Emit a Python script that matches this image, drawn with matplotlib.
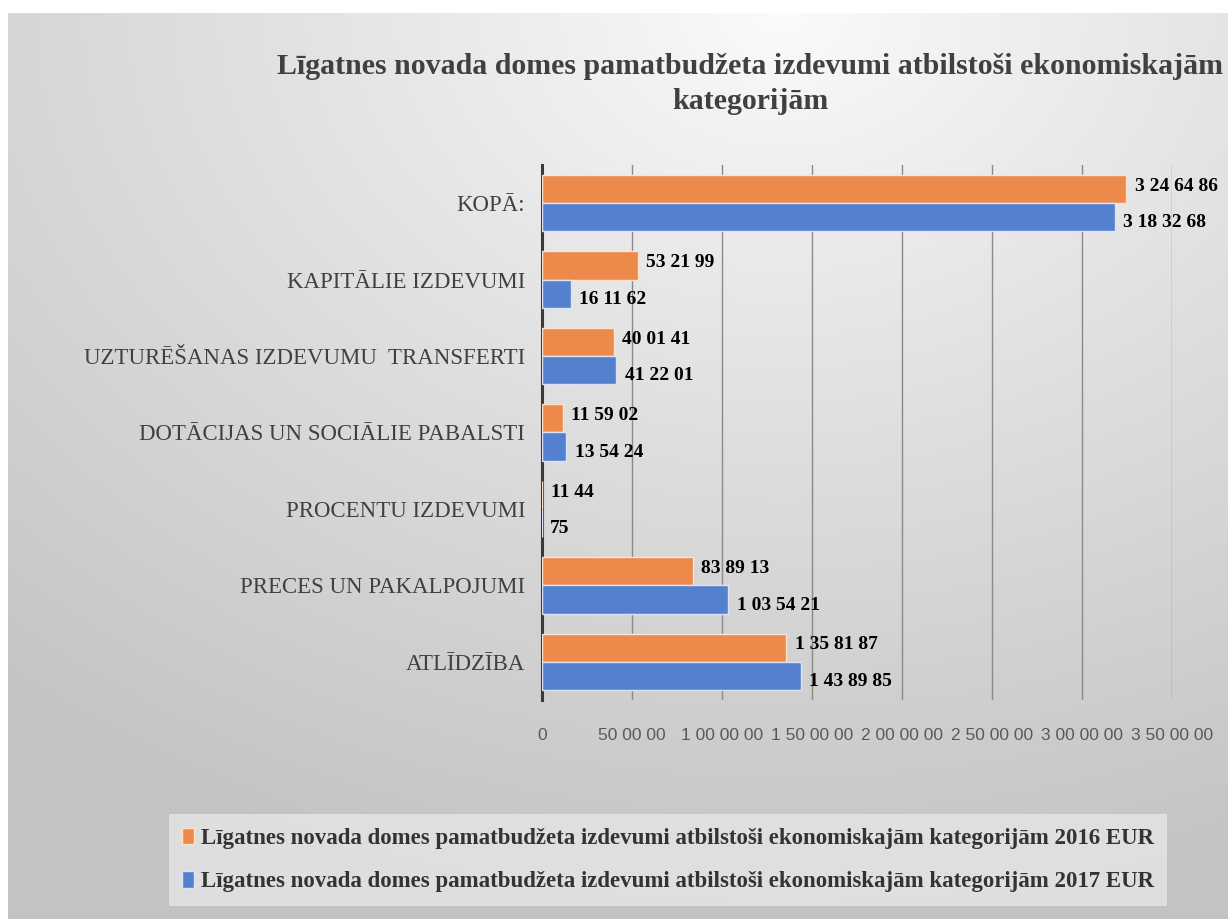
import numpy as np
import matplotlib
matplotlib.use("Agg")
import matplotlib.pyplot as plt
from matplotlib.ticker import FuncFormatter, MultipleLocator

categories = ["ATLĪDZĪBA", "PRECES UN PAKALPOJUMI", "PROCENTU IZDEVUMI",
              "DOTĀCIJAS UN SOCIĀLIE PABALSTI", "UZTURĒŠANAS IZDEVUMU  TRANSFERTI",
              "KAPITĀLIE IZDEVUMI", "KOPĀ:"]
values_2016 = [1358187, 838913, 1144, 115902, 400141, 532199, 3246486]
values_2017 = [1438985, 1035421, 75, 135424, 412201, 161162, 3183268]
series_names = ["Līgatnes novada domes pamatbudžeta izdevumi atbilstoši ekonomiskajām kategorijām 2016 EUR",
                "Līgatnes novada domes pamatbudžeta izdevumi atbilstoši ekonomiskajām kategorijām 2017 EUR"]
title = "Līgatnes novada domes pamatbudžeta izdevumi atbilstoši ekonomiskajām\nkategorijām"

def fmt_pairs(v):
    s = str(int(round(v)))
    groups = []
    while len(s) > 2:
        groups.insert(0, s[-2:])
        s = s[:-2]
    if s:
        groups.insert(0, s)
    return " ".join(groups)

W, H = 1228, 919
fig = plt.figure(figsize=(W / 100, H / 100), dpi=100)
fig.patch.set_facecolor("white")

# background gradient
bg = fig.add_axes([8 / W, 0, 1 - 8 / W, 1 - 13 / H], zorder=-10)
yy, xx = np.mgrid[0:200, 0:300]
cx, cy = 190, 0
r = np.sqrt(((xx - cx) / 300) ** 2 + ((yy - cy) / 200) ** 2)
val = 0.985 - 0.22 * np.clip(r / 1.0, 0, 1) ** 0.9
img = np.dstack([val, val, val])
bg.imshow(img, aspect="auto", extent=[0, 1, 0, 1], origin="upper", interpolation="bicubic")
bg.set_axis_off()

serif = ["Liberation Serif", "DejaVu Serif"]
ax = fig.add_axes([542 / W, 1 - 700 / H, (1172 - 542) / W, (700 - 165) / H])
ax.patch.set_alpha(0)

y = np.arange(len(categories))
h = 0.37
off = 0.185
orange = "#ED8A4B"
blue = "#5580CE"
b1 = ax.barh(y + off, values_2016, height=h, color=orange, edgecolor="#fbe3d2", linewidth=1.0, zorder=3,
             label=series_names[0])
b2 = ax.barh(y - off, values_2017, height=h, color=blue, edgecolor="#dbe4f5", linewidth=1.0, zorder=3,
             label=series_names[1])

for yi, v in zip(y, values_2016):
    ax.annotate(fmt_pairs(v), (v, yi + off), xytext=(6, 2), textcoords="offset points",
                ha="left", va="center", fontsize=14, fontweight="bold", family=serif, color="black")
for yi, v in zip(y, values_2017):
    ax.annotate(fmt_pairs(v), (v, yi - off), xytext=(6, -4), textcoords="offset points",
                ha="left", va="center", fontsize=14, fontweight="bold", family=serif, color="black")

ax.set_xlim(0, 3500000)
ax.set_ylim(-0.5, 6.5)
ax.xaxis.set_major_locator(MultipleLocator(500000))
ax.xaxis.set_major_formatter(FuncFormatter(lambda v, p: fmt_pairs(v)))
ax.grid(axis="x", color="#8a8a8a", linewidth=1.0, zorder=0)
ax.set_axisbelow(True)
for s in ["top", "right", "bottom"]:
    ax.spines[s].set_visible(False)
ax.spines["left"].set_color("#3a3a3a")
ax.spines["left"].set_linewidth(2.2)
ax.set_yticks(y)
ax.set_yticklabels(categories, family=serif, fontsize=16.5, color="#404040")
ax.tick_params(axis="y", length=0, pad=12)
ax.tick_params(axis="x", length=0, pad=20, labelsize=12.5, labelcolor="#595959")
for t in ax.get_xticklabels():
    t.set_family(["Liberation Sans", "DejaVu Sans"])

fig.text(750 / W, 1 - 84 / H, title, ha="center", va="center", family=serif, fontweight="bold",
         fontsize=21.5, color="#404040", linespacing=1.35)

leg = fig.legend(handles=[b1, b2], loc="center", bbox_to_anchor=(668 / W, 1 - 860 / H),
                 ncol=1, frameon=True, fancybox=False, handlelength=0.5, handleheight=0.7,
                 handletextpad=0.3, labelspacing=1.0, borderpad=0.6,
                 prop={"family": serif, "weight": "bold", "size": 16.5})
leg.get_frame().set_facecolor("#e6e6e6")
leg.get_frame().set_edgecolor("none")
for t in leg.get_texts():
    t.set_color("#333333")

fig.savefig("out.png", dpi=100)
